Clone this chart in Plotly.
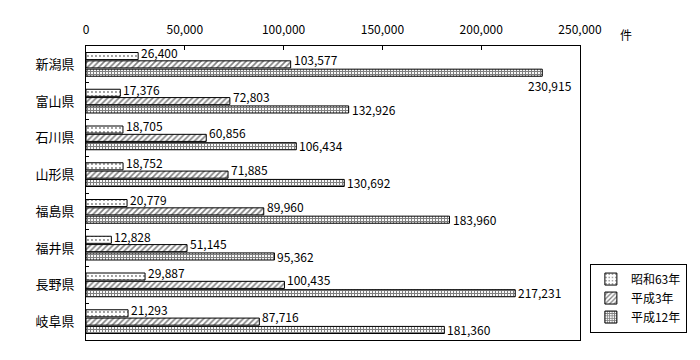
import plotly.graph_objects as go

prefectures = ["新潟県", "富山県", "石川県", "山形県", "福島県", "福井県", "長野県", "岐阜県"]
series_names = ["昭和63年", "平成3年", "平成12年"]
s63 = [26400, 17376, 18705, 18752, 20779, 12828, 29887, 21293]
h3 = [103577, 72803, 60856, 71885, 89960, 51145, 100435, 87716]
h12 = [230915, 132926, 106434, 130692, 183960, 95362, 217231, 181360]
x_ticks = [0, 50000, 100000, 150000, 200000, 250000]
x_ticklabels = ["0", "50,000", "100,000", "150,000", "200,000", "250,000"]
unit_label = "件"

FONT = "Noto Sans CJK JP"
patterns = [dict(shape=".", size=4, solidity=0.18),
            dict(shape="/", size=4, solidity=0.4),
            dict(shape="+", size=3, solidity=0.6)]

fig = go.Figure()
all_series = [s63, h3, h12]
for name, vals, pat in zip(series_names, all_series, patterns):
    fig.add_trace(go.Bar(
        y=prefectures, x=vals, orientation="h", name=name,
        legendgroup=name,
        marker=dict(color="white", line=dict(color="black", width=1),
                    pattern=dict(fgcolor="black", bgcolor="white", **pat)),
    ))

# value labels
yshifts = [12, 5, -8]
for si, vals in enumerate(all_series):
    for p, v in zip(prefectures, vals):
        xs, ys = 1, yshifts[si]
        if si == 2 and v > 220000:
            xs, ys = -16, -21
        fig.add_annotation(x=v, y=p, xref="x", yref="y", text=f"{v:,}",
                           showarrow=False, xanchor="left", yanchor="middle",
                           xshift=xs, yshift=ys,
                           font=dict(family=FONT, size=12, color="black"))

fig.add_annotation(x=1.093, y=1.04, xref="paper", yref="paper", text=unit_label,
                   showarrow=False, xanchor="center", yanchor="middle",
                   font=dict(family=FONT, size=12, color="black"))

# page body adds an 8px offset; margins compensate so the plot area lands at 86..580 x 46..340
fig.update_layout(
    width=700, height=360,
    margin=dict(l=78, r=128, t=38, b=28, autoexpand=False),
    paper_bgcolor="white", plot_bgcolor="white",
    barmode="group", bargap=0.32, bargroupgap=0.15,
    font=dict(family=FONT, size=12, color="black"),
    showlegend=True,
    legend=dict(x=1.02, y=0.26, xanchor="left", yanchor="top",
                bordercolor="black", borderwidth=1, bgcolor="white",
                tracegroupgap=8, traceorder="normal", itemwidth=30,
                font=dict(family=FONT, size=12, color="black")),
    xaxis=dict(side="top", range=[0, 250000], tickvals=x_ticks, ticktext=x_ticklabels,
               showgrid=False, zeroline=False, showline=True, linecolor="black",
               linewidth=1, mirror=True, ticks="inside", ticklen=4, tickcolor="black",
               ticklabelstandoff=6, automargin=False, fixedrange=True),
    yaxis=dict(range=[7.5, -0.5], type="category", showgrid=False, zeroline=False,
               showline=True, linecolor="black", linewidth=1, mirror=True,
               ticks="inside", tickson="boundaries", ticklen=3, tickcolor="black",
               ticklabelstandoff=8, automargin=False,
               tickfont=dict(family=FONT, size=13, color="black")),
)

fig.write_html("out.html")
